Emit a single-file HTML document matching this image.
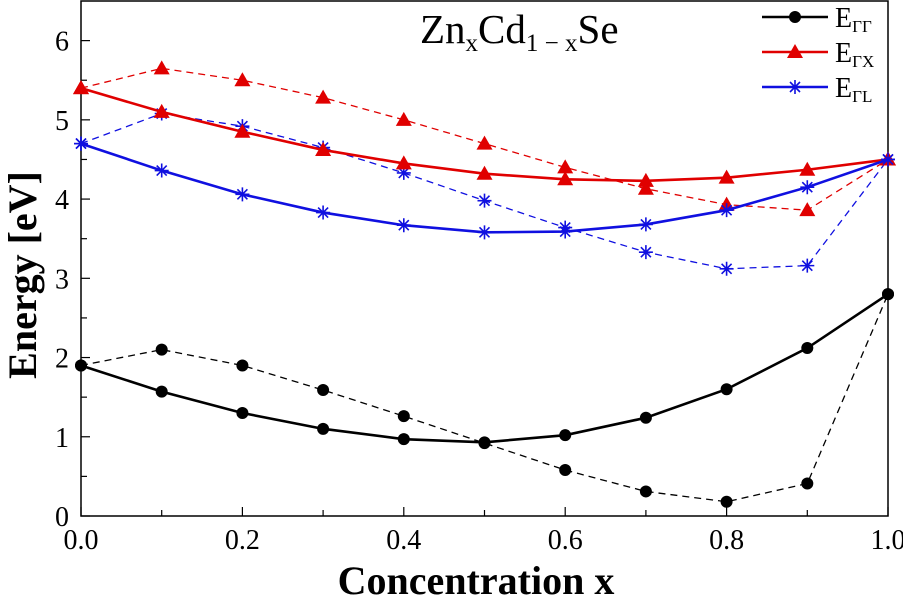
<!DOCTYPE html>
<html><head><meta charset="utf-8"><style>
body{margin:0;background:#fff}
svg{display:block;font-family:"Liberation Serif",serif}
</style></head><body>
<svg id="chart" width="903" height="600" viewBox="0 0 903 600" xmlns="http://www.w3.org/2000/svg">
<rect x="0" y="0" width="903" height="600" fill="#fff"/>
<g id="plot"></g>
<text x="420" y="43" font-size="41">Zn<tspan font-size="25" dy="8">x</tspan><tspan dy="-8">Cd</tspan><tspan font-size="25" dy="8">1 − x</tspan><tspan dy="-8">Se</tspan></text>
<text transform="translate(36,275) rotate(-90)" text-anchor="middle" font-size="40" font-weight="bold">Energy [eV]</text>
<text x="476" y="594" text-anchor="middle" font-size="40" font-weight="bold">Concentration x</text>
</svg>
<script>
const xs=[0,0.1,0.2,0.3,0.4,0.5,0.6,0.7,0.8,0.9,1.0];
const ggSolid=[1.9,1.57,1.3,1.1,0.97,0.93,1.02,1.24,1.6,2.12,2.8];
const ggDashed=[1.9,2.1,1.9,1.59,1.26,0.92,0.58,0.31,0.18,0.41,2.8];
const gxSolid=[5.4,5.1,4.85,4.62,4.45,4.32,4.25,4.23,4.27,4.37,4.5];
const gxDashed=[5.4,5.65,5.5,5.28,5.0,4.7,4.4,4.13,3.93,3.86,4.5];
const glSolid=[4.7,4.36,4.06,3.83,3.67,3.58,3.59,3.68,3.86,4.15,4.5];
const glDashed=[4.7,5.08,4.92,4.65,4.33,3.98,3.64,3.33,3.12,3.16,4.5];
const xTicks=["0.0","0.2","0.4","0.6","0.8","1.0"];
const yTicks=["0","1","2","3","4","5","6"];
const L=81,R=888,T=1,B=516,YMAX=6.5;
const X=v=>L+v*(R-L);
const Y=v=>B-v/YMAX*(B-T);
const NS="http://www.w3.org/2000/svg";
const g=document.getElementById('plot');
function mk(t,a){const e=document.createElementNS(NS,t);for(const k in a)e.setAttribute(k,a[k]);g.appendChild(e);return e;}
let e=mk('rect',{x:L,y:T,width:R-L,height:B-T,fill:'none',stroke:'#000','stroke-width':1.5});


for(let i=0;i<=10;i++){const v=i/10;const len=i%2==0?9:6;
 e=mk('line',{x1:X(v),x2:X(v),y1:B,y2:B-len,stroke:'#000','stroke-width':1.2});
 
 }
xTicks.forEach(t=>{e=mk('text',{x:X(+t),y:B+33,'text-anchor':'middle','font-size':28});e.textContent=t;
 
 });
for(let i=0;i<=12;i++){const v=i/2;const len=i%2==0?9:6;
 e=mk('line',{x1:L,x2:L+len,y1:Y(v),y2:Y(v),stroke:'#000','stroke-width':1.2});
 
 }
yTicks.forEach(t=>{e=mk('text',{x:L-12,y:Y(+t)+10,'text-anchor':'end','font-size':28});e.textContent=t;
 
 });
function marker(type,cx,cy,col,name){
 let m;
 if(type==='circle'){m=mk('circle',{cx:cx,cy:cy,r:6,fill:col});}
 else if(type==='tri'){m=mk('polygon',{points:`${cx},${cy-8} ${cx-8},${cy+6} ${cx+8},${cy+6}`,fill:col});}
 else{m=mk('path',{d:`M${cx-7},${cy}H${cx+7}M${cx},${cy-7}V${cy+7}M${cx-5},${cy-5}L${cx+5},${cy+5}M${cx-5},${cy+5}L${cx+5},${cy-5}`,stroke:col,'stroke-width':1.6,fill:'none'});}
 
 
}
function series(vals,col,dash,type,name){
 const p=mk('polyline',{points:vals.map((v,i)=>X(xs[i])+','+Y(v)).join(' '),fill:'none',stroke:col,'stroke-width':dash?1.3:2.6,'stroke-dasharray':dash?'7,5':'none'});
 
 
 vals.forEach((v,i)=>marker(type,X(xs[i]),Y(v),col,name+'-point'));
}
series(ggDashed,'#000',true,'circle','e-gg-dashed');
series(gxDashed,'#e00000',true,'tri','e-gx-dashed');
series(glDashed,'#1010e0',true,'star','e-gl-dashed');
series(ggSolid,'#000',false,'circle','e-gg');
series(gxSolid,'#e00000',false,'tri','e-gx');
series(glSolid,'#1010e0',false,'star','e-gl');
const leg=[['#000','circle','Γ','Γ',17],['#e00000','tri','Γ','X',52],['#1010e0','star','Γ','L',87]];
leg.forEach(([c,t,a,b,y])=>{
 e=mk('line',{x1:762,x2:828,y1:y,y2:y,stroke:c,'stroke-width':2.4});
 
 
 marker(t,795,y,c,'legend-marker');
 e=mk('text',{x:835,y:y+10,'font-size':28});
 e.innerHTML='E<tspan font-size="17" dy="5">'+a+b+'</tspan>';
 
 
});
</script>
</body></html>
